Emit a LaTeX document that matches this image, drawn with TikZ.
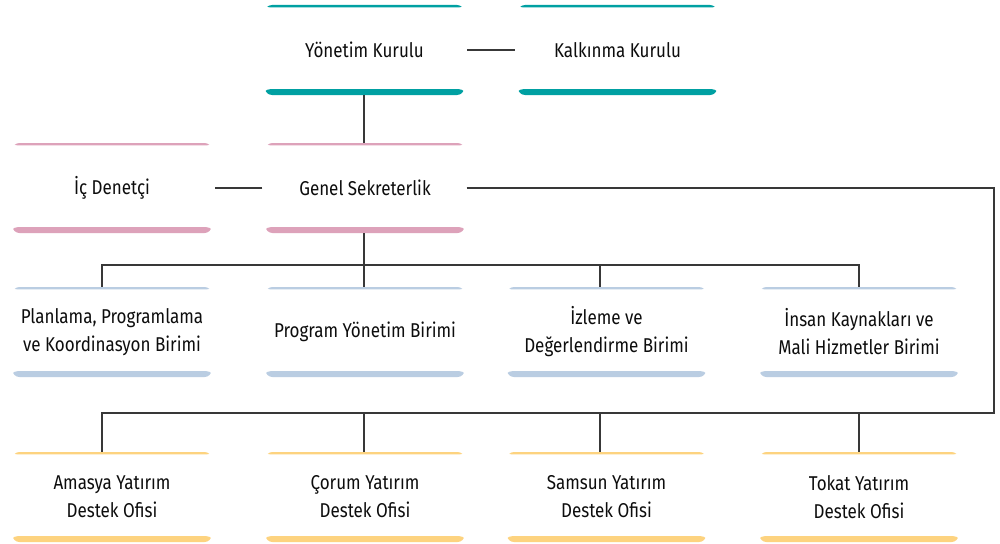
\documentclass[tikz,border=0pt]{standalone}
\usepackage{fontspec}
\setmainfont[FakeStretch=0.85]{Fira Sans}
\begin{document}
\begin{tikzpicture}[x=1pt,y=-1pt,
  conn/.style={draw=black!78,line width=1.2pt},
  orgbox/.style={rounded corners=7pt,minimum width=199pt,minimum height=90pt,
    inner sep=0pt,align=center,text=black!95,font=\fontsize{20}{28}\selectfont,
    path picture={
      \fill[#1] ([xshift=-2pt]path picture bounding box.north west) rectangle ([xshift=2pt,yshift=-2.4pt]path picture bounding box.north east);
      \fill[#1] ([xshift=-2pt]path picture bounding box.south west) rectangle ([xshift=2pt,yshift=5.8pt]path picture bounding box.south east);
    }},
  tealbox/.style={orgbox=teal0},
  pinkbox/.style={orgbox=pink0},
  bluebox/.style={orgbox=blue0},
  yellowbox/.style={orgbox=yellow0}
]
\definecolor{teal0}{HTML}{00A0A2}
\definecolor{pink0}{HTML}{DDA2BA}
\definecolor{blue0}{HTML}{BACDE2}
\definecolor{yellow0}{HTML}{FDD37F}
\useasboundingbox (0,0) rectangle (1000,543);
\fill[white] (0,0) rectangle (1000,543);

% row 1
\node[tealbox] (yk) at (364.5,50) {Yönetim Kurulu};
\node[tealbox] (kk) at (617.5,50) {Kalkınma Kurulu};
% row 2
\node[pinkbox] (id) at (112,188) {İç Denetçi};
\node[pinkbox] (gs) at (365,188) {Genel Sekreterlik};
% row 3
\node[bluebox] (p1) at (112,332) {Planlama, Programlama\\ve Koordinasyon Birimi};
\node[bluebox] (p2) at (365,332) {Program Yönetim Birimi};
\node[bluebox] (p3) at (606.5,332) {İzleme ve\\Değerlendirme Birimi};
\node[bluebox] (p4) at (859,332) {İnsan Kaynakları ve\\Mali Hizmetler Birimi};
% row 4
\node[yellowbox] (o1) at (112,497) {Amasya Yatırım\\Destek Ofisi};
\node[yellowbox] (o2) at (365,497) {Çorum Yatırım\\Destek Ofisi};
\node[yellowbox] (o3) at (606.5,497) {Samsun Yatırım\\Destek Ofisi};
\node[yellowbox] (o4) at (859,497) {Tokat Yatırım\\Destek Ofisi};

\coordinate (j3) at (364,265);
\coordinate (j4) at (994,413);

\draw[conn,shorten <=3pt,shorten >=3pt] (yk.east) -- (kk.west);
\draw[conn] (yk.south -| j3) -- (gs.north -| j3);
\draw[conn,shorten <=3pt,shorten >=3pt] (gs.west) -- (id.east);
\draw[conn] (gs.south -| j3) -- (j3);
\draw[conn] (p1.north -| 102,0) |- (j3) -| (p4.north -| 859,0);
\draw[conn] (p2.north -| j3) -- (j3);
\draw[conn] (p3.north -| 600,0) -- (j3 -| 600,0);
\draw[conn,shorten <=2pt] (gs.east) -| (j4) -| (o1.north -| 102,0);
\draw[conn] (o2.north -| j3) -- (j4 -| j3);
\draw[conn] (o3.north -| 600,0) -- (j4 -| 600,0);
\draw[conn] (o4.north -| 859,0) -- (j4 -| 859,0);
\end{tikzpicture}
\end{document}
